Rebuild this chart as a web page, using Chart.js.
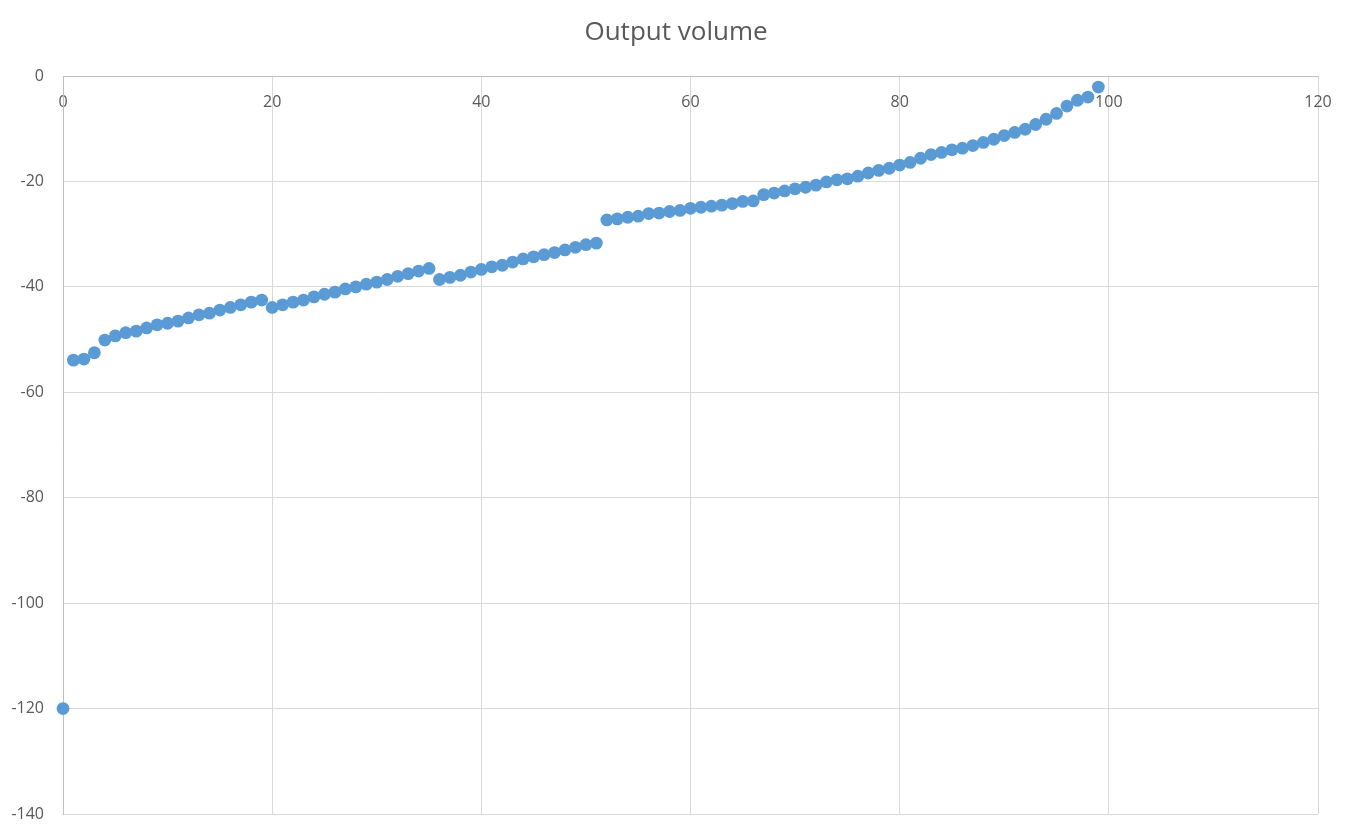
<!DOCTYPE html>
<html>
<head>
<meta charset="utf-8">
<script src="https://cdn.jsdelivr.net/npm/chart.js@4"></script>
<style>
  html, body { margin: 0; padding: 0; background: #ffffff; }
  #wrap { width: 1352px; height: 834px; }
</style>
</head>
<body>
<div id="wrap"><canvas id="c" width="1352" height="834"></canvas></div>
<script>
const chartTitle = "Output volume";
const xValues = [
  0, 1, 2, 3, 4, 5, 6, 7, 8, 9,
  10, 11, 12, 13, 14, 15, 16, 17, 18, 19,
  20, 21, 22, 23, 24, 25, 26, 27, 28, 29,
  30, 31, 32, 33, 34, 35, 36, 37, 38, 39,
  40, 41, 42, 43, 44, 45, 46, 47, 48, 49,
  50, 51, 52, 53, 54, 55, 56, 57, 58, 59,
  60, 61, 62, 63, 64, 65, 66, 67, 68, 69,
  70, 71, 72, 73, 74, 75, 76, 77, 78, 79,
  80, 81, 82, 83, 84, 85, 86, 87, 88, 89,
  90, 91, 92, 93, 94, 95, 96, 97, 98, 99
];
const yValues = [
  -120.0, -53.9, -53.7, -52.5, -50.1, -49.3, -48.7, -48.4, -47.8, -47.2,
  -46.9, -46.5, -45.9, -45.3, -45.0, -44.4, -43.9, -43.4, -42.9, -42.5,
  -43.9, -43.4, -42.9, -42.5, -41.9, -41.4, -41.0, -40.4, -40.0, -39.5,
  -39.1, -38.6, -38.0, -37.5, -37.0, -36.5, -38.6, -38.2, -37.8, -37.2,
  -36.7, -36.2, -35.9, -35.3, -34.7, -34.3, -33.9, -33.5, -33.0, -32.5,
  -32.0, -31.7, -27.3, -27.1, -26.8, -26.6, -26.1, -26.0, -25.7, -25.5,
  -25.1, -24.9, -24.7, -24.5, -24.2, -23.8, -23.7, -22.5, -22.2, -21.8,
  -21.4, -21.1, -20.7, -20.1, -19.7, -19.5, -19.0, -18.4, -17.9, -17.5,
  -16.9, -16.4, -15.6, -14.9, -14.5, -14.0, -13.7, -13.2, -12.6, -12.0,
  -11.3, -10.7, -10.1, -9.2, -8.2, -7.1, -5.7, -4.6, -4.0, -2.1
];
const xAxisMin = 0, xAxisMax = 120, xAxisStep = 20;
const yAxisMin = -140, yAxisMax = 0, yAxisStep = 20;

const points = xValues.map((x, i) => ({ x: x, y: yValues[i] }));

new Chart(document.getElementById('c'), {
  type: 'scatter',
  data: {
    datasets: [{
      label: 'Output volume',
      data: points,
      backgroundColor: '#5b9bd5',
      borderColor: '#5b9bd5',
      borderWidth: 0,
      pointRadius: 6.4,
      pointHoverRadius: 6.4,
      clip: false
    }]
  },
  options: {
    responsive: false,
    animation: false,
    events: [],
    layout: { padding: { left: 0, right: 0, top: 0, bottom: 20 } },
    plugins: {
      legend: { display: false },
      tooltip: { enabled: false },
      title: {
        display: true,
        text: chartTitle,
        color: '#595959',
        font: { family: 'Open Sans', size: 26, weight: 'normal', lineHeight: 1.2 },
        padding: { top: 17, bottom: 0 }
      }
    },
    scales: {
      x: {
        type: 'linear',
        position: 'top',
        min: xAxisMin, max: xAxisMax,
        afterFit: s => { s.height = 27.8; s.paddingRight = 34; },
        ticks: {
          stepSize: xAxisStep,
          color: '#595959',
          font: { family: 'Open Sans', size: 16 },
          mirror: true,
          padding: 16.6,
          maxRotation: 0
        },
        grid: { color: '#d9d9d9', lineWidth: 1, drawTicks: false },
        border: { display: true, color: '#bfbfbf', width: 1 }
      },
      y: {
        type: 'linear',
        position: 'left',
        min: yAxisMin, max: yAxisMax,
        afterFit: s => { s.width = 63; s.paddingTop = 0; s.paddingBottom = 0; },
        ticks: {
          stepSize: yAxisStep,
          color: '#595959',
          font: { family: 'Open Sans', size: 16 },
          padding: 19
        },
        grid: { color: '#d9d9d9', lineWidth: 1, drawTicks: false },
        border: { display: true, color: '#bfbfbf', width: 1 }
      }
    }
  }
});
</script>
</body>
</html>
